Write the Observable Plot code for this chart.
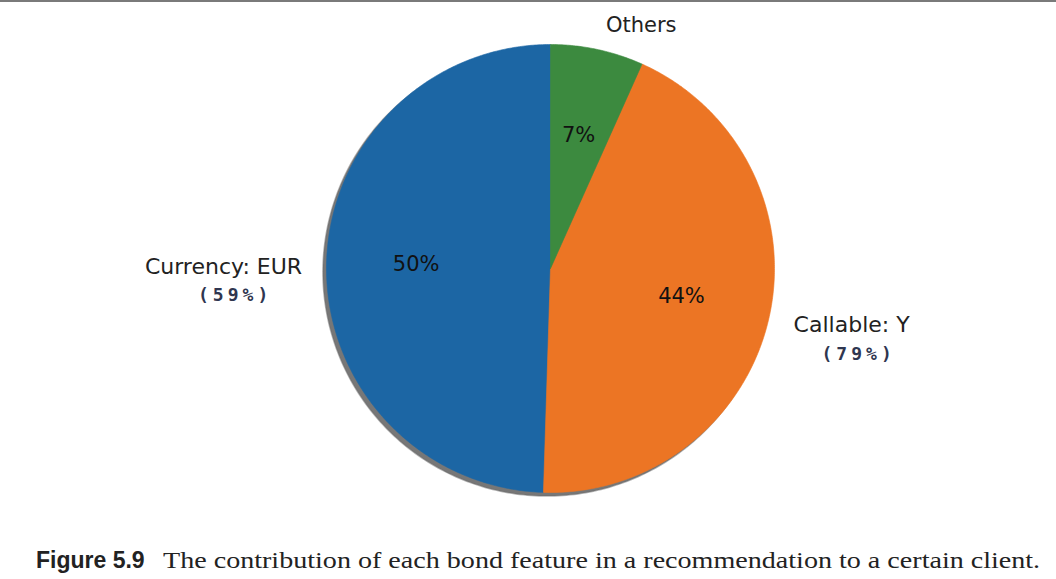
<!DOCTYPE html>
<html>
<head>
<meta charset="utf-8">
<script src="https://cdn.jsdelivr.net/npm/d3@7"></script>
<script src="https://cdn.jsdelivr.net/npm/@observablehq/plot@0.6"></script>
<style>
  html, body { margin: 0; padding: 0; background: #fff; }
  body { width: 1056px; height: 579px; overflow: hidden; border-top: 2px solid #7a7a7a; box-sizing: border-box; }
  #chart svg { display: block; }
  #caption { height: 47px; padding-left: 36px; white-space: nowrap; line-height: 56px; color: #222; }
  #caption b { font-family: "Liberation Sans", Arial, sans-serif; font-weight: bold; font-size: 23px; margin-right: 18px; }
  #caption span { display: inline-block; font-family: "Liberation Serif", "Times New Roman", serif; font-size: 24px; transform: scaleX(1.17); transform-origin: left center; }
</style>
</head>
<body>
<div id="chart"></div>
<div id="caption"><b>Figure 5.9</b><span>The contribution of each bond feature in a recommendation to a certain client.</span></div>
<script>
// ---- data ----
const features = ["Currency: EUR", "Callable: Y", "Others"];
const shares = [0.495, 0.438, 0.067];
const featureValues = ["(59%)", "(79%)", ""];
const colors = ["#1c66a4", "#ec7524", "#3c8a3f"];

// ---- geometry derived from the data (matplotlib-style: startangle 90, counter-clockwise) ----
const W = 1056, H = 530;
const total = d3.sum(shares);
let start = 90;
const slices = features.map((f, i) => {
  const sweep = shares[i] / total * 360;
  const s = {name: f, value: shares[i], sub: featureValues[i], a0: start, a1: start + sweep, mid: start + sweep / 2};
  start += sweep;
  return s;
});
const rad = (d) => d * Math.PI / 180;
const polyPoints = [];
for (const s of slices) {
  polyPoints.push({name: s.name, x: 0, y: 0});
  const n = Math.max(4, Math.ceil((s.a1 - s.a0) / 0.5));
  for (let k = 0; k <= n; k++) {
    const a = rad(s.a0 + (s.a1 - s.a0) * k / n);
    polyPoints.push({name: s.name, x: Math.cos(a), y: Math.sin(a)});
  }
  polyPoints.push({name: s.name, x: 0, y: 0});
}
const shadowPts = d3.range(0, 361, 1).map(a => ({x: Math.cos(rad(a)) - 0.016, y: Math.sin(rad(a)) - 0.016}));

const pctLabels = slices.map(s => ({x: 0.6 * Math.cos(rad(s.mid)), y: 0.6 * Math.sin(rad(s.mid)), text: Math.round(s.value / total * 100) + "%"}));
const nameLabels = slices.map(s => ({x: 1.1 * Math.cos(rad(s.mid)), y: 1.1 * Math.sin(rad(s.mid)), text: s.name, sub: s.sub, right: Math.cos(rad(s.mid)) >= 0}));
const leftLabels = nameLabels.filter(d => !d.right);
const rightLabels = nameLabels.filter(d => d.right && d.sub !== "");
const topLabels = nameLabels.filter(d => d.right && d.sub === "");

// pixel mapping: centre at (550, 266), radius 224 px
const R = 224, cx = 550, cy = 266;
const xDomain = [(0 - cx) / R, (W - cx) / R];
const yDomain = [-(H - cy) / R, cy / R];

const chart = Plot.plot({
  width: W, height: H,
  margin: 0,
  x: {domain: xDomain, axis: null},
  y: {domain: yDomain, axis: null},
  color: {domain: features, range: colors},
  style: {fontFamily: "DejaVu Sans", background: "white"},
  marks: [
    Plot.line(shadowPts, {x: "x", y: "y", fill: "#4a4a4a", fillOpacity: 0.75, stroke: "#6b6b6b", strokeOpacity: 0.5, strokeWidth: 1.5, curve: "linear"}),
    Plot.line(polyPoints, {x: "x", y: "y", z: "name", fill: "name", stroke: "name", strokeWidth: 0.6, curve: "linear"}),
    Plot.text(pctLabels, {x: "x", y: "y", text: "text", fontSize: 21, fill: "#111", dy: -2}),
    Plot.text(topLabels, {x: "x", y: "y", text: "text", textAnchor: "start", fontSize: 21, fill: "#222", dx: 4, dy: -2}),
    Plot.text(leftLabels, {x: "x", y: "y", text: "text", textAnchor: "end", fontSize: 22, fill: "#222", dx: -2, dy: 2}),
    Plot.text(rightLabels, {x: "x", y: "y", text: "text", textAnchor: "start", fontSize: 22, fill: "#222", dx: 3, dy: 1}),
    Plot.text(leftLabels, {x: "x", y: "y", text: "sub", textAnchor: "middle", fontSize: 18, fontWeight: 600, fontFamily: "DejaVu Sans Mono", fill: "#2f3650", dx: -69, dy: 31}),
    Plot.text(rightLabels, {x: "x", y: "y", text: "sub", textAnchor: "middle", fontSize: 18, fontWeight: 600, fontFamily: "DejaVu Sans Mono", fill: "#2f3650", dx: 68, dy: 30}),
  ]
});
d3.select(chart).selectAll("text").filter(function() { return this.textContent.startsWith("("); }).style("letter-spacing", "4px");
document.getElementById("chart").appendChild(chart);
</script>
</body>
</html>
